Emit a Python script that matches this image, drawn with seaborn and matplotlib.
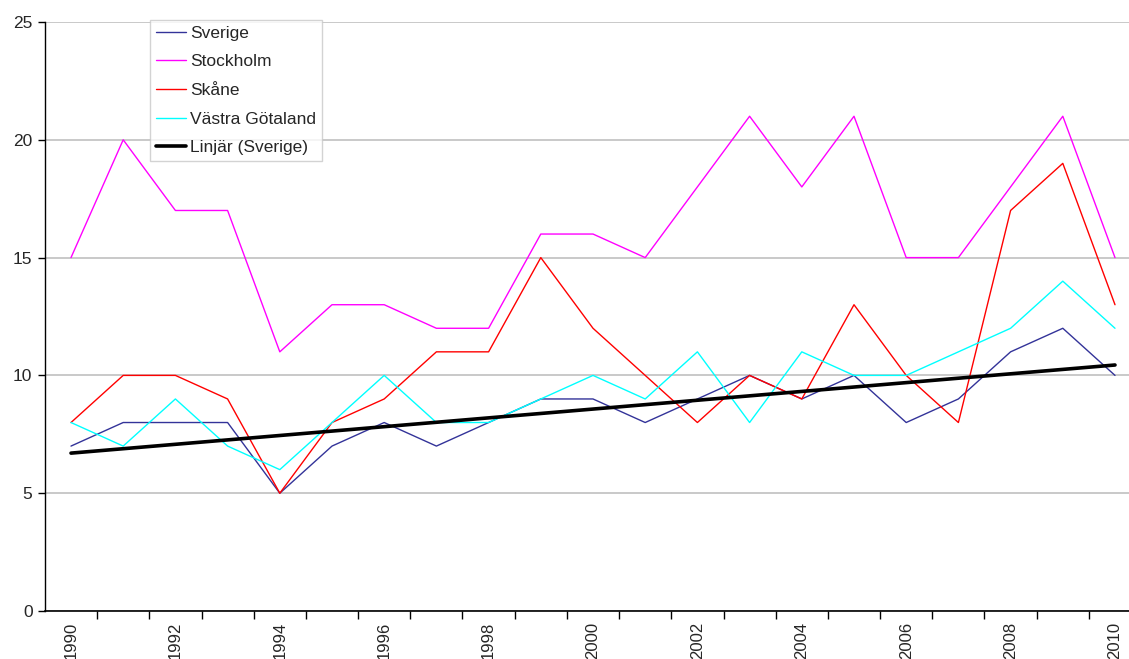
import numpy as np
import pandas as pd
import matplotlib
matplotlib.use("Agg")
import matplotlib.pyplot as plt
import seaborn as sns
from matplotlib.lines import Line2D

years = list(range(1990, 2011))
sverige = [7, 8, 8, 8, 5, 7, 8, 7, 8, 9, 9, 8, 9, 10, 9, 10, 8, 9, 11, 12, 10]
stockholm = [15, 20, 17, 17, 11, 13, 13, 12, 12, 16, 16, 15, 18, 21, 18, 21, 15, 15, 18, 21, 15]
skane = [8, 10, 10, 9, 5, 8, 9, 11, 11, 15, 12, 10, 8, 10, 9, 13, 10, 8, 17, 19, 13]
vastra = [8, 7, 9, 7, 6, 8, 10, 8, 8, 9, 10, 9, 11, 8, 11, 10, 10, 11, 12, 14, 12]
series_names = ["Sverige", "Stockholm", "Skåne", "Västra Götaland"]
trend_label = "Linjär (Sverige)"
colors = {"Sverige": "#333399", "Stockholm": "#FF00FF", "Skåne": "#FF0000", "Västra Götaland": "#00FFFF"}

sns.set_style("white")
plt.rcParams['font.family'] = ['Liberation Sans', 'DejaVu Sans']

idx = np.arange(len(years))
df = pd.DataFrame({
    "x": np.tile(idx, 4),
    "value": sverige + stockholm + skane + vastra,
    "series": np.repeat(series_names, len(years)),
})

fig = plt.figure(figsize=(11.29, 6.59), dpi=100)
ax = fig.add_axes([45 / 1129, 48 / 659, 1 - 45 / 1129, 589 / 659])

sns.lineplot(data=df, x="x", y="value", hue="series", hue_order=series_names,
             palette=colors, linewidth=1.0, ax=ax, legend=False, sort=False)

coef = np.polyfit(idx, sverige, 1)
trend = np.polyval(coef, idx)
sns.lineplot(x=idx, y=trend, color="black", linewidth=2.6, ax=ax, legend=False)

ax.set_xticks(idx[::2])
ax.set_xticklabels([str(y) for y in years[::2]], rotation=90)
ax.set_xticks(np.arange(-0.5, len(years), 1.0), minor=True)
ax.set_yticks([0, 5, 10, 15, 20, 25])
ax.set_xlim(-26 / 52.2, 20 + 14 / 52.2)
ax.set_ylim(0, 25)
ax.grid(axis="y", color="#c0c0c0", linewidth=1.2)
ax.set_axisbelow(True)
for s in ["top", "right"]:
    ax.spines[s].set_visible(False)
ax.spines["left"].set_color("black")
ax.spines["bottom"].set_color("black")
ax.spines["left"].set_linewidth(1.0)
ax.spines["bottom"].set_linewidth(1.2)

ax.tick_params(axis="x", which="major", length=0, labelsize=12, pad=8)
ax.tick_params(axis="x", which="minor", length=6, width=1, color="black", direction="out", bottom=True)
ax.tick_params(axis="y", length=5, width=1, color="black", direction="out", left=True, labelsize=12.5, pad=4)
ax.set_xlabel("")
ax.set_ylabel("")

handles = [Line2D([], [], color=colors[n], linewidth=1.0) for n in series_names]
handles.append(Line2D([], [], color="black", linewidth=2.6))
labels = series_names + [trend_label]
leg = fig.legend(handles, labels, loc="upper left", bbox_to_anchor=(150 / 1129, 1 - 20 / 659),
                 frameon=True, fancybox=False, fontsize=12.5, handlelength=1.75,
                 handletextpad=0.25, labelspacing=0.78, borderpad=0.32, borderaxespad=0)
leg.get_frame().set_edgecolor("#c8c8c8")
leg.get_frame().set_linewidth(1.0)

fig.savefig("out.png", dpi=100)
